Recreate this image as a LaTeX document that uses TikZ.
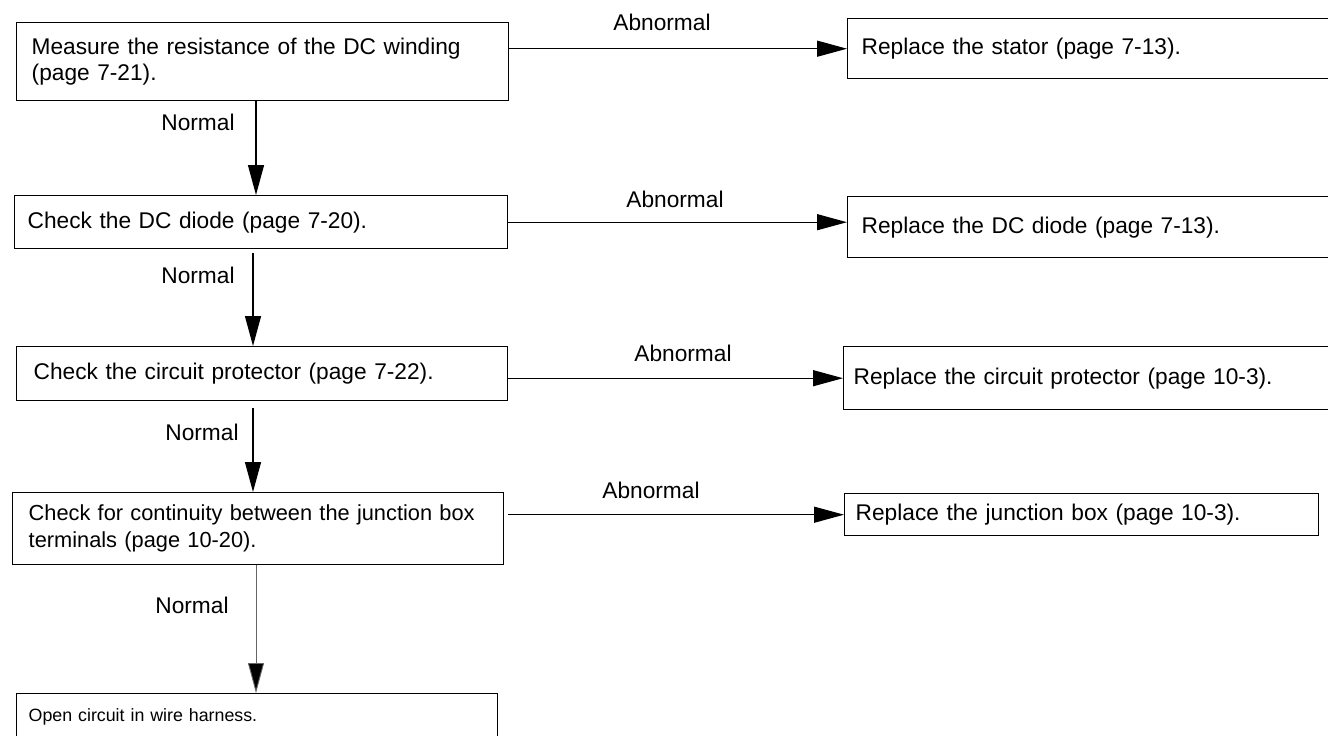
\documentclass[tikz,border=0pt]{standalone}
\usepackage{fontspec}
\setmainfont{Liberation Sans}
\usetikzlibrary{arrows.meta}

\begin{document}
\begin{tikzpicture}[x=1pt, y=-1pt,
  stepbox/.style={draw, line width=1.4pt, anchor=north west, inner ysep=0pt,
    align=left, font=\fontsize{22.7pt}{26pt}\selectfont},
  lbl/.style={inner sep=0pt, font=\fontsize{22.7pt}{26pt}\selectfont},
  arr/.style={line width=1.3pt, -{Triangle[length=30pt, width=16pt]}},
  lastarr/.style={line width=0.9pt, draw=black!60, -{Triangle[length=30pt, width=16pt, fill=black]}}]

\clip (0,0) rectangle (1328,736);

% check steps (left column)
\node[stepbox, inner xsep=15pt, text width=462pt, minimum height=78pt] (m1) at (16,22)
  {\mbox{Measure the resistance of the DC winding}\\\mbox{(page 7-21).}};
\node[stepbox, inner xsep=13pt, text width=467pt, minimum height=53pt] (c2) at (14,195)
  {\mbox{Check the DC diode (page 7-20).}};
\node[stepbox, inner xsep=17pt, text width=457pt, minimum height=54pt] (c3) at (16,346)
  {\mbox{Check the circuit protector (page 7-22).}};
\node[stepbox, inner xsep=16pt, text width=459pt, minimum height=72pt,
      font=\fontsize{21.8pt}{27pt}\selectfont] (c4) at (12,492)
  {\mbox{Check for continuity between the junction box}\\\mbox{terminals (page 10-20).}};
\node[stepbox, inner xsep=12pt, text width=457pt, minimum height=47pt,
      font=\fontsize{17.8pt}{22pt}\selectfont] (c5) at (16,693)
  {\raisebox{3pt}{\mbox{Open circuit in wire harness.}}};

% remedies (right column)
\node[stepbox, inner xsep=14pt, text width=455pt, minimum height=60pt] (r1) at (847,18)
  {\mbox{Replace the stator (page 7-13).}};
\node[stepbox, inner xsep=14pt, text width=455pt, minimum height=61pt] (r2) at (847,196)
  {\mbox{Replace the DC diode (page 7-13).}};
\node[stepbox, inner xsep=10pt, text width=467pt, minimum height=63pt] (r3) at (843,346)
  {\mbox{Replace the circuit protector (page 10-3).}};
\node[stepbox, inner xsep=11pt, text width=452pt, minimum height=42pt] (r4) at (844,493)
  {\mbox{Replace the junction box (page 10-3).}};

% vertical guide positions of the "Normal" connectors
\coordinate (va) at (256,0);
\coordinate (vb) at (253,0);

% Normal branches
\draw[arr] (m1.south -| va) -- (c2.north -| va);
\draw[arr, shorten <=4pt] (c2.south -| vb) -- (c3.north -| vb);
\draw[arr, shorten <=7pt] (c3.south -| vb) -- (c4.north -| vb);
\draw[lastarr] (c4.south -| va) -- (c5.north -| va);

% Abnormal branches
\draw[arr] (m1.east |- r1.west) -- (r1.west);
\draw[arr] (c2.east) -- (c2.east -| r2.west);
\draw[arr] (c3.east |- r3.west) -- (r3.west);
\draw[arr, shorten <=4pt] (c4.east |- r4.west) -- (r4.west);

% branch labels
\node[lbl] (n1) at (198,122) {Normal};
\node[lbl] (n2) at (198,275) {Normal};
\node[lbl] (n3) at (202,432) {Normal};
\node[lbl] (n4) at (192,605) {Normal};
\node[lbl] (a1) at (662,22) {Abnormal};
\node[lbl] (a2) at (675,199) {Abnormal};
\node[lbl] (a3) at (683,353) {Abnormal};
\node[lbl] (a4) at (651,490) {Abnormal};
\end{tikzpicture}
\end{document}
